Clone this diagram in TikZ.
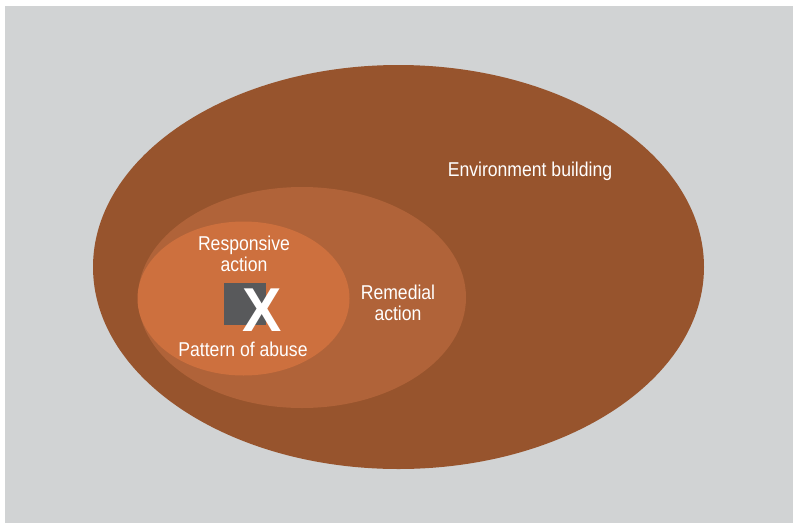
\documentclass[tikz,border=0pt]{standalone}
\usepackage{fontspec}
\setmainfont{Liberation Sans}[FakeStretch=0.88]
\newfontfamily\xfont{Liberation Sans}[FakeStretch=0.95]
\definecolor{bggray}{RGB}{209,211,212}
\definecolor{outerbrown}{RGB}{151,84,45}
\definecolor{midbrown}{RGB}{176,99,57}
\definecolor{innerorange}{RGB}{205,112,62}
\definecolor{darksq}{RGB}{88,89,91}
\begin{document}
\begin{tikzpicture}[x=1pt,y=-1pt,
  lbl/.style={text=white, font=\fontsize{20}{21}\selectfont, align=center, inner sep=0pt},
  ring/.style={draw=none, ellipse}]
\useasboundingbox (0,0) rectangle (796,523);
\fill[white] (0,0) rectangle (796,523);
\fill[bggray] (5,6) rectangle (793,523);
\fill[outerbrown] (398.5,267) ellipse [x radius=305.5, y radius=202];
\fill[midbrown] (302,297.5) ellipse [x radius=164, y radius=110.5];
\fill[innerorange] (243.5,298.5) ellipse [x radius=106, y radius=77];
\node[fill=darksq, minimum width=42pt, minimum height=42pt, inner sep=0pt] (sq) at (245,304) {};
\node[text=white, inner sep=0pt, font=\xfont\bfseries\fontsize{62}{62}\selectfont] (x) at (262,310.5) {X};
\node[lbl] (env) at (530,171) {Environment building};
\node[lbl] (rem) at (398,302.5) {Remedial\\action};
\node[lbl] (resp) at (244,253.5) {Responsive\\action};
\node[lbl] (pat) at (243,349) {Pattern of abuse};
\end{tikzpicture}
\end{document}
